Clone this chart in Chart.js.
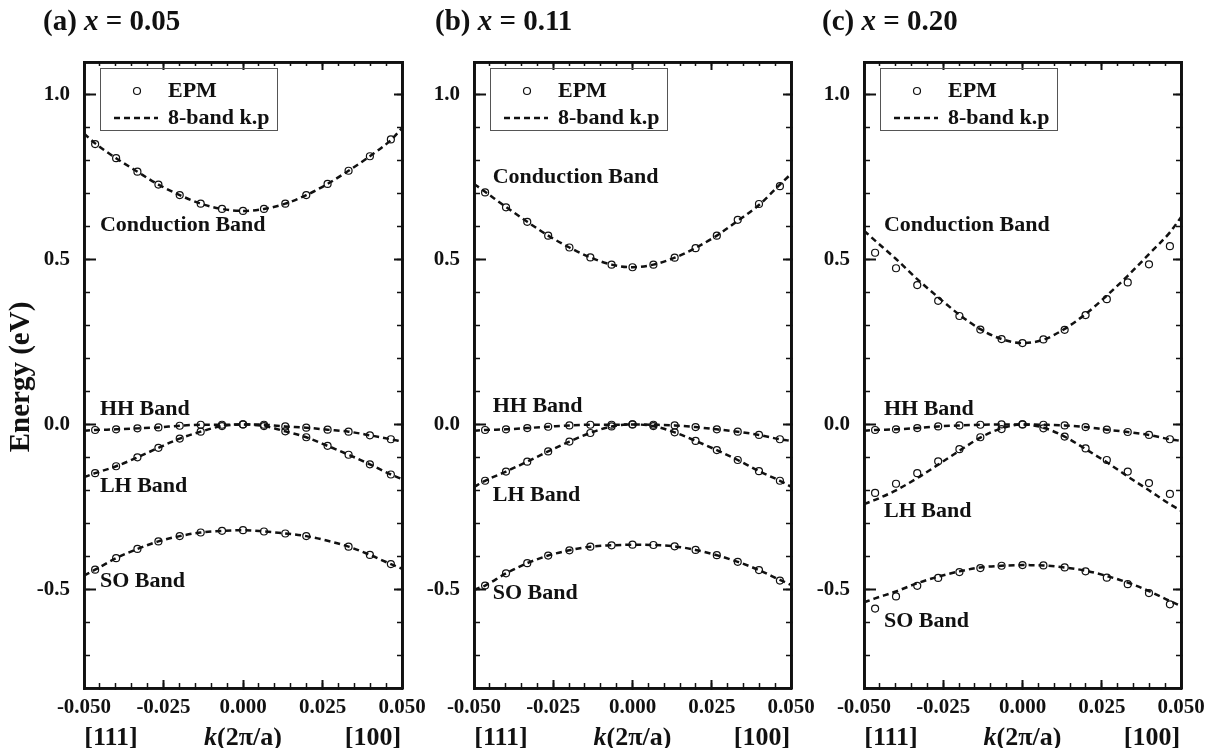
<!DOCTYPE html>
<html>
<head>
<meta charset="utf-8">
<script src="https://cdn.jsdelivr.net/npm/chart.js@4.4.0/dist/chart.umd.min.js"></script>
<style>
  body{margin:0;background:#fff;}
  #wrap{position:relative;width:1215px;height:748px;}
  #wrap canvas{position:absolute;left:0;top:0;}
</style>
</head>
<body>
<div id="wrap">
  <canvas id="panel_a" width="1215" height="748"></canvas>
  <canvas id="panel_b" width="1215" height="748"></canvas>
  <canvas id="panel_c" width="1215" height="748"></canvas>
</div>
<script>
// k (2π/a) where the EPM bands were sampled: [111] to the left, [100] to the right
const kEpm = [-0.0465, -0.0399, -0.0332, -0.0266, -0.0199, -0.0133, -0.0066, 0, 0.0066, 0.0133, 0.0199, 0.0266, 0.0332, 0.0399, 0.0465];
// k.p curves go out to the edge of the plot
const kKp = [-0.05, -0.0465, -0.0399, -0.0332, -0.0266, -0.0199, -0.0133, -0.0066, 0, 0.0066, 0.0133, 0.0199, 0.0266, 0.0332, 0.0399, 0.0465, 0.05];

// axis ticks
const xMajor = [-0.05, -0.025, 0, 0.025, 0.05];
const xMinor = [-0.05, -0.045, -0.04, -0.035, -0.03, -0.025, -0.02, -0.015, -0.01, -0.005, 0, 0.005, 0.01, 0.015, 0.02, 0.025, 0.03, 0.035, 0.04, 0.045, 0.05];
const yMajor = [-0.5, 0, 0.5, 1.0];
const yMinor = [-0.7, -0.6, -0.5, -0.4, -0.3, -0.2, -0.1, 0, 0.1, 0.2, 0.3, 0.4, 0.5, 0.6, 0.7, 0.8, 0.9, 1.0];

// (a) x = 0.05
const cbEpmA = [0.851, 0.808, 0.767, 0.728, 0.696, 0.670, 0.654, 0.648, 0.654, 0.670, 0.696, 0.730, 0.770, 0.814, 0.865];
const hhEpmA = [-0.017, -0.015, -0.012, -0.009, -0.004, -0.001, -0.001, 0, -0.001, -0.006, -0.010, -0.016, -0.022, -0.033, -0.045];
const lhEpmA = [-0.148, -0.127, -0.100, -0.071, -0.043, -0.022, -0.005, 0, -0.005, -0.021, -0.039, -0.065, -0.092, -0.121, -0.152];
const soEpmA = [-0.441, -0.406, -0.378, -0.355, -0.339, -0.328, -0.323, -0.321, -0.325, -0.331, -0.339, null, -0.371, -0.396, -0.424];
const cbKpA = [0.883, 0.853, 0.808, 0.767, 0.728, 0.696, 0.670, 0.654, 0.648, 0.654, 0.670, 0.696, 0.730, 0.770, 0.814, 0.863, 0.899];
const hhKpA = [-0.019, -0.017, -0.015, -0.012, -0.009, -0.004, -0.001, -0.001, 0, -0.001, -0.006, -0.010, -0.016, -0.022, -0.033, -0.045, -0.052];
const lhKpA = [-0.160, -0.148, -0.127, -0.100, -0.071, -0.043, -0.022, -0.005, 0, -0.005, -0.021, -0.039, -0.065, -0.092, -0.121, -0.152, -0.166];
const soKpA = [-0.459, -0.441, -0.406, -0.378, -0.355, -0.339, -0.328, -0.323, -0.321, -0.325, -0.331, -0.339, -0.353, -0.371, -0.396, -0.424, -0.438];

// (b) x = 0.11
const cbEpmB = [0.704, 0.659, 0.615, 0.573, 0.537, 0.507, 0.485, 0.477, 0.485, 0.506, 0.535, 0.573, 0.621, 0.669, 0.723];
const hhEpmB = [-0.017, -0.015, -0.011, -0.007, -0.003, -0.001, -0.001, 0, -0.001, -0.003, -0.008, -0.015, -0.022, -0.032, -0.045];
const lhEpmB = [-0.171, -0.143, -0.113, -0.082, -0.052, -0.026, -0.006, 0, -0.005, -0.024, -0.050, -0.078, -0.108, -0.142, -0.171];
const soEpmB = [-0.489, -0.452, -0.421, -0.398, -0.382, -0.371, -0.367, -0.365, -0.366, -0.370, -0.381, -0.397, -0.417, -0.442, -0.474];
const cbKpB = [0.730, 0.706, 0.660, 0.615, 0.573, 0.537, 0.507, 0.485, 0.477, 0.485, 0.506, 0.536, 0.573, 0.618, 0.666, 0.728, 0.760];
const hhKpB = [-0.019, -0.017, -0.015, -0.011, -0.007, -0.003, -0.001, -0.001, 0, -0.001, -0.003, -0.008, -0.015, -0.022, -0.032, -0.045, -0.050];
const lhKpB = [-0.190, -0.171, -0.143, -0.113, -0.082, -0.052, -0.026, -0.006, 0, -0.005, -0.024, -0.050, -0.078, -0.108, -0.142, -0.171, -0.189];
const soKpB = [-0.502, -0.489, -0.452, -0.421, -0.398, -0.382, -0.371, -0.367, -0.365, -0.366, -0.370, -0.381, -0.397, -0.417, -0.442, -0.472, -0.487];

// (c) x = 0.20
const cbEpmC = [0.521, 0.474, 0.423, 0.375, 0.329, 0.288, 0.259, 0.247, 0.258, 0.287, 0.332, 0.380, 0.431, 0.486, 0.541];
const hhEpmC = [-0.017, -0.015, -0.011, -0.006, -0.003, -0.001, 0, 0, -0.001, -0.003, -0.008, -0.016, -0.023, -0.032, -0.045];
const lhEpmC = [-0.208, -0.180, -0.148, -0.112, -0.075, -0.039, -0.014, 0, -0.012, -0.037, -0.073, -0.108, -0.143, -0.178, -0.211];
const soEpmC = [-0.559, -0.522, -0.490, -0.466, -0.448, -0.436, -0.429, -0.427, -0.428, -0.434, -0.446, -0.465, -0.485, -0.512, -0.546];
const cbKpC = [0.588, 0.558, 0.502, 0.441, 0.386, 0.333, 0.289, 0.259, 0.247, 0.257, 0.290, 0.335, 0.391, 0.451, 0.517, 0.583, 0.629];
const hhKpC = [-0.019, -0.017, -0.015, -0.011, -0.006, -0.003, -0.001, 0, 0, -0.001, -0.003, -0.008, -0.016, -0.023, -0.032, -0.045, -0.050];
const lhKpC = [-0.242, -0.229, -0.200, -0.163, -0.122, -0.080, -0.040, -0.012, 0, -0.010, -0.037, -0.075, -0.115, -0.158, -0.200, -0.242, -0.262];
const soKpC = [-0.540, -0.528, -0.507, -0.482, -0.462, -0.446, -0.434, -0.429, -0.427, -0.428, -0.434, -0.444, -0.460, -0.480, -0.506, -0.536, -0.551];

const INK = '#111';
const SERIF = "'Liberation Serif', 'Times New Roman', serif";

function pts(ks, vals){
    return ks.map((k, i) => ({x: k, y: vals[i]})).filter(p => p.y !== null);
}

function epmSet(vals){
    return {
        label: 'EPM', data: pts(kEpm, vals), showLine: false,
        pointStyle: 'circle', pointRadius: 3.5, pointBorderWidth: 1.2,
        pointBorderColor: INK, pointBackgroundColor: 'rgba(0,0,0,0)', borderColor: INK
    };
}
function kpSet(vals){
    return {
        label: '8-band k.p', data: pts(kKp, vals), borderColor: INK, borderWidth: 2.5,
        borderDash: [6, 4], pointRadius: 0, cubicInterpolationMode: 'monotone', fill: false
    };
}

// one tick-only axis; ticks point into the plot (negative length)
function tickAxis(pos, values, len, width, weight){
    const horiz = pos === 'top' || pos === 'bottom';
    return {
        type: 'linear', position: pos, weight: weight,
        min: horiz ? -0.05 : -0.8, max: horiz ? 0.05 : 1.1,
        afterBuildTicks: s => { s.ticks = values.map(v => ({value: v})); },
        grid: {drawOnChartArea: false, drawTicks: true, tickLength: -len, tickWidth: width, tickColor: INK},
        border: {display: true, color: INK, width: 2.8},
        ticks: {display: false},
        afterFit: s => {
            if (horiz) s.height = 0; else s.width = 0;
            s.paddingLeft = s.paddingRight = s.paddingTop = s.paddingBottom = 0;
        }
    };
}

function buildScales(){
    const x = tickAxis('bottom', xMajor, 8, 2, 1);
    x.ticks = {display: true, padding: 15, color: INK, font: {family: SERIF, size: 21, weight: 'bold'},
               maxRotation: 0, autoSkip: false, callback: v => v.toFixed(3)};
    x.afterFit = s => { s.height = 60; s.paddingLeft = s.paddingRight = 0; };
    const y = tickAxis('left', yMajor, 12, 2, 1);
    y.ticks = {display: true, padding: 26, color: INK, font: {family: SERIF, size: 21, weight: 'bold'},
               autoSkip: false, callback: v => v.toFixed(1)};
    y.afterFit = s => { s.width = 60; s.paddingTop = s.paddingBottom = 0; };
    return {
        x: x, y: y,
        xMin: tickAxis('bottom', xMinor, 5, 1.5, 0),
        xTop: tickAxis('top', xMajor, 8, 2, 0),
        xTopMin: tickAxis('top', xMinor, 4, 1.5, 0),
        yMin: tickAxis('left', yMinor, 6, 1.5, 0),
        yRight: tickAxis('right', yMajor, 8, 2, 0),
        yRightMin: tickAxis('right', yMinor, 5, 1.5, 0)
    };
}

// panel heading, band names, legend box and the k-axis captions
const panelText = {
    id: 'panelText',
    afterDraw(chart, args, o){
        const ctx = chart.ctx, area = chart.chartArea;
        const xs = chart.scales.x, ys = chart.scales.y;
        ctx.save();
        ctx.fillStyle = INK;
        ctx.strokeStyle = INK;

        // heading "(a) x = 0.05"
        ctx.textBaseline = 'alphabetic';
        ctx.textAlign = 'left';
        let tx = o.titleX;
        o.title.forEach((part, i) => {
            ctx.font = (i === 1 ? 'italic bold ' : 'bold ') + '29px ' + SERIF;
            ctx.fillText(part, tx, 30);
            tx += ctx.measureText(part).width;
        });

        // band names
        ctx.font = 'bold 22px ' + SERIF;
        ctx.textBaseline = 'middle';
        o.bands.forEach(b => {
            ctx.fillText(b.text, xs.getPixelForValue(b.k), ys.getPixelForValue(b.e));
        });

        // legend
        const lx = area.left + 16, ly = 68;
        ctx.lineWidth = 1;
        ctx.strokeStyle = '#555';
        ctx.strokeRect(lx + 0.5, ly + 0.5, 177, 62);
        ctx.strokeStyle = INK;
        ctx.lineWidth = 1.2;
        ctx.beginPath();
        ctx.arc(lx + 37, ly + 23, 3.5, 0, Math.PI * 2);
        ctx.stroke();
        ctx.lineWidth = 2.5;
        ctx.setLineDash([6, 4]);
        ctx.beginPath();
        ctx.moveTo(lx + 14, ly + 50);
        ctx.lineTo(lx + 58, ly + 50);
        ctx.stroke();
        ctx.setLineDash([]);
        ctx.font = 'bold 22px ' + SERIF;
        ctx.fillText('EPM', lx + 68, ly + 23);
        ctx.fillText('8-band k.p', lx + 68, ly + 50);

        // direction and k captions under the axis
        ctx.textAlign = 'center';
        ctx.font = 'bold 26px ' + SERIF;
        ctx.fillText('[111]', area.left + 27, 738);
        ctx.fillText('[100]', area.right - 29, 738);
        const mid = (area.left + area.right) / 2;
        ctx.font = 'italic bold 26px ' + SERIF;
        const kw = ctx.measureText('k').width;
        ctx.font = 'bold 26px ' + SERIF;
        const rw = ctx.measureText('(2π/a)').width;
        ctx.textAlign = 'left';
        ctx.font = 'italic bold 26px ' + SERIF;
        ctx.fillText('k', mid - (kw + rw) / 2, 738);
        ctx.font = 'bold 26px ' + SERIF;
        ctx.fillText('(2π/a)', mid - (kw + rw) / 2 + kw, 738);

        // energy axis title on the first panel only
        if (o.yTitle){
            ctx.translate(22, (area.top + area.bottom) / 2 + 2);
            ctx.rotate(-Math.PI / 2);
            ctx.textAlign = 'center';
            ctx.font = 'bold 29px ' + SERIF;
            ctx.fillText(o.yTitle, 0, 0);
        }
        ctx.restore();
    }
};

function makePanel(id, pad, sets, text){
    return new Chart(document.getElementById(id), {
        type: 'line',
        data: {datasets: sets},
        options: {
            responsive: false,
            animation: false,
            events: [],
            parsing: false,
            layout: {padding: pad},
            scales: buildScales(),
            plugins: {legend: {display: false}, tooltip: {enabled: false}, panelText: text}
        },
        plugins: [panelText]
    });
}

makePanel('panel_a', {left: 24, right: 813, top: 62, bottom: 0}, [
    epmSet(cbEpmA), epmSet(hhEpmA), epmSet(lhEpmA), epmSet(soEpmA),
    kpSet(cbKpA), kpSet(hhKpA), kpSet(lhKpA), kpSet(soKpA)
], {
    title: ['(a) ', 'x', ' = 0.05'], titleX: 43, yTitle: 'Energy (eV)',
    bands: [
        {text: 'Conduction Band', k: -0.045, e: 0.603},
        {text: 'HH Band', k: -0.045, e: 0.045},
        {text: 'LH Band', k: -0.045, e: -0.189},
        {text: 'SO Band', k: -0.045, e: -0.475}
    ]
});

makePanel('panel_b', {left: 414, right: 424, top: 62, bottom: 0}, [
    epmSet(cbEpmB), epmSet(hhEpmB), epmSet(lhEpmB), epmSet(soEpmB),
    kpSet(cbKpB), kpSet(hhKpB), kpSet(lhKpB), kpSet(soKpB)
], {
    title: ['(b) ', 'x', ' = 0.11'], titleX: 435,
    bands: [
        {text: 'Conduction Band', k: -0.0441, e: 0.750},
        {text: 'HH Band', k: -0.0441, e: 0.054},
        {text: 'LH Band', k: -0.0441, e: -0.214},
        {text: 'SO Band', k: -0.0441, e: -0.513}
    ]
});

makePanel('panel_c', {left: 804, right: 34, top: 62, bottom: 0}, [
    epmSet(cbEpmC), epmSet(hhEpmC), epmSet(lhEpmC), epmSet(soEpmC),
    kpSet(cbKpC), kpSet(hhKpC), kpSet(lhKpC), kpSet(soKpC)
], {
    title: ['(c) ', 'x', ' = 0.20'], titleX: 822,
    bands: [
        {text: 'Conduction Band', k: -0.0437, e: 0.603},
        {text: 'HH Band', k: -0.0437, e: 0.047},
        {text: 'LH Band', k: -0.0437, e: -0.265},
        {text: 'SO Band', k: -0.0437, e: -0.598}
    ]
});
</script>
</body>
</html>
